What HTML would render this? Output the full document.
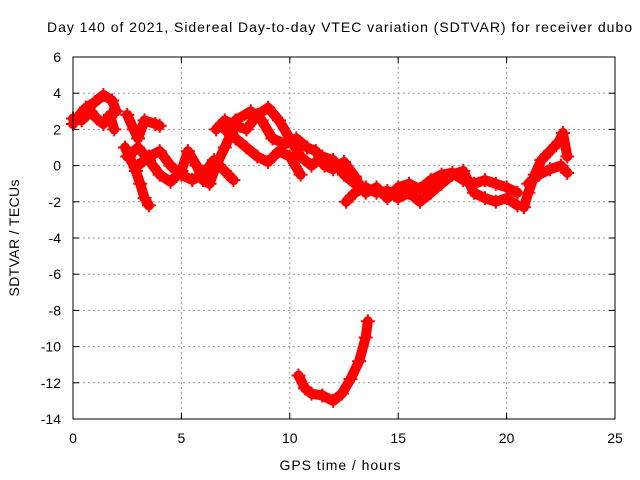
<!DOCTYPE html>
<html><head><meta charset="utf-8"><style>
body{margin:0;background:#fff}
svg{display:block;font-family:"Liberation Sans",sans-serif}
</style></head><body>
<svg id="chart" width="640" height="480">
<text x="339.5" y="32" text-anchor="middle" font-size="14" textLength="585" lengthAdjust="spacing">Day 140 of 2021, Sidereal Day-to-day VTEC variation (SDTVAR) for receiver dubo</text>
<text x="340" y="470" text-anchor="middle" font-size="14" textLength="121" lengthAdjust="spacing">GPS time / hours</text>
<text transform="translate(19,238) rotate(-90)" text-anchor="middle" font-size="14" textLength="117" lengthAdjust="spacing">SDTVAR / TECUs</text>
<g id="grid"></g><g id="ticks"></g><g id="series"></g>
<rect x="73" y="57" width="542" height="362" fill="none" stroke="#000"/>
</svg>
<script>
const xTicks=[0,5,10,15,20,25];
const yTicks=[6,4,2,0,-2,-4,-6,-8,-10,-12,-14];
const trackA=[[0,2.3],[0.3,2.8],[0.6,3.2],[1.0,3.5],[1.4,3.9],[1.8,3.6],[2.0,3.0]];
const trackA2=[[0,2.6],[0.4,2.5],[0.8,3.0],[1.1,2.6],[1.4,2.3],[1.7,2.8],[1.9,2.0]];
const trackB=[[2.4,1.0],[2.6,0.5],[2.9,-0.3],[3.1,-1.0],[3.3,-1.8],[3.5,-2.2]];
const trackC=[[2.5,2.8],[2.8,2.0],[3.0,1.5],[3.3,2.5],[3.8,2.3],[4.0,2.2]];
const trackD=[[2.5,0.5],[3.0,1.0],[3.5,0.3],[4.0,-0.5],[4.5,-0.9],[5.0,-0.3],[5.3,0.8],[5.7,0],[6.0,-0.8],[6.3,-1.0],[6.6,0],[7.0,1.0],[7.3,1.8],[7.5,2.3]];
const trackE=[[3.0,0.0],[3.5,0.5],[4.0,0.8],[4.5,0.0],[5.0,-0.5],[5.5,-0.8],[6.0,-0.5],[6.5,0.3],[7.0,-0.3],[7.4,-0.8]];
const trackF=[[6.6,2.0],[7.0,2.5],[7.5,2.2],[8.0,2.0],[8.5,2.8],[9.0,3.2],[9.5,2.5],[10,1.5],[10.5,0.5],[11,0],[11.5,0.5],[12,0.3],[12.5,-0.5],[13,-1.0]];
const trackG=[[7.5,2.5],[8.2,3.0],[8.7,2.5],[9.2,1.5],[9.8,1.2],[10.3,1.5],[10.8,1.0],[11.2,0.8],[11.6,0.0],[12.0,-0.2],[12.5,0.2],[13,-0.6]];
const trackH=[[7.0,2.0],[7.5,1.5],[8.0,1.0],[8.5,0.5],[9.0,0.2],[9.5,0.8],[10,0.5],[10.5,-0.5]];
const trackI=[[12.6,-2.0],[13,-1.5],[13.5,-1.2],[14,-1.5],[14.5,-1.4],[15,-1.8],[15.5,-1.5],[16,-2.0],[16.5,-1.5],[17,-1.0],[17.5,-0.5],[18,-0.3],[18.5,-1.5],[19,-1.8],[19.5,-2.0],[20,-1.8],[20.5,-2.2]];
const trackJ=[[13,-0.7],[13.5,-1.5],[14,-1.2],[14.5,-1.8],[15,-1.2],[15.5,-1.0],[16,-1.3],[16.5,-0.8],[17,-0.5],[17.5,-0.4],[18,-0.8],[18.5,-1.0],[19,-0.8],[19.5,-1.0],[20,-1.2],[20.5,-1.5]];
const trackK=[[20.8,-2.3],[21,-1.5],[21.3,-0.5],[21.6,0.3],[22,0.8],[22.4,1.3],[22.6,1.8],[22.8,0.5]];
const trackL=[[21,-1.0],[21.5,-0.5],[22,-0.2],[22.5,0.0],[22.8,-0.4]];
const trackM=[[10.4,-11.6],[10.7,-12.3],[11.0,-12.6],[11.5,-12.7],[12.0,-13.0],[12.4,-12.6],[12.8,-11.8],[13.2,-10.8],[13.5,-9.5],[13.6,-8.6]];
const tracks=[trackA,trackA2,trackB,trackC,trackD,trackE,trackF,trackG,trackH,trackI,trackJ,trackK,trackL,trackM];
const X0=73,X1=615,Y0=419,Y1=57,XMIN=0,XMAX=25,YMIN=-14,YMAX=6;
const sx=v=>X0+(v-XMIN)/(XMAX-XMIN)*(X1-X0);
const sy=v=>Y0-(v-YMIN)/(YMAX-YMIN)*(Y0-Y1);
const NS="http://www.w3.org/2000/svg";
function mk(tag,attrs,parent){const e=document.createElementNS(NS,tag);for(const k in attrs)e.setAttribute(k,attrs[k]);parent.appendChild(e);return e;}
const grid=document.getElementById('grid'),ticks=document.getElementById('ticks'),ser=document.getElementById('series');
xTicks.forEach(t=>{const x=sx(t);
 if(t>XMIN&&t<XMAX){const g=mk('line',{x1:x,x2:x,y1:Y1,y2:Y0,stroke:'#999','stroke-dasharray':'2,3'},grid);
 
 }
 mk('line',{x1:x,x2:x,y1:Y0,y2:Y0-6,stroke:'#000'},ticks);mk('line',{x1:x,x2:x,y1:Y1,y2:Y1+6,stroke:'#000'},ticks);
 const l=mk('text',{x:x,y:Y0+24,'text-anchor':'middle','font-size':14},ticks);l.textContent=t;
 
 });
yTicks.forEach(t=>{const y=sy(t);
 if(t>YMIN&&t<YMAX){const g=mk('line',{x1:X0,x2:X1,y1:y,y2:y,stroke:'#999','stroke-dasharray':'2,3'},grid);
 
 }
 mk('line',{x1:X0,x2:X0+6,y1:y,y2:y,stroke:'#000'},ticks);mk('line',{x1:X1,x2:X1-6,y1:y,y2:y,stroke:'#000'},ticks);
 const l=mk('text',{x:X0-12,y:y+5,'text-anchor':'end','font-size':14},ticks);l.textContent=t;
 
 });
tracks.forEach((tr,i)=>{
 const p=mk('polyline',{points:tr.map(d=>sx(d[0])+','+sy(d[1])).join(' '),fill:'none',stroke:'#f00','stroke-width':10,'stroke-linejoin':'round','stroke-linecap':'round'},ser);
 
 
 tr.forEach(d=>{const x=sx(d[0]),y=sy(d[1]);
  const m=mk('path',{d:`M${x-7},${y}H${x+7}M${x},${y-7}V${y+7}`,stroke:'#f00','stroke-width':2},ser);
  
  });
});
</script>
</body></html>
